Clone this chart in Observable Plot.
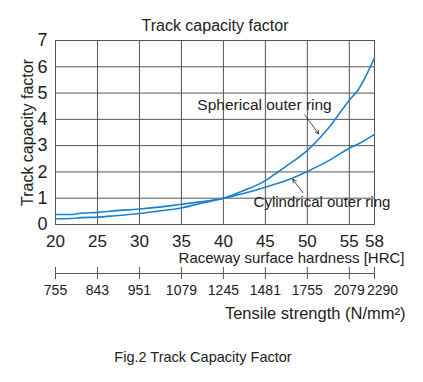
<!DOCTYPE html>
<html>
<head>
<meta charset="utf-8">
<script src="https://cdn.jsdelivr.net/npm/d3@7"></script>
<script src="https://cdn.jsdelivr.net/npm/@observablehq/plot@0.6"></script>
<style>
  body { margin: 0; background: #fff; font-family: "Liberation Sans", Arial, sans-serif; }
  #caption { width: 406px; text-align: center; font-size: 14.5px; color: #222; margin-top: 14px; }
</style>
</head>
<body>
<div id="chart"></div>
<div id="caption">Fig.2 Track Capacity Factor</div>
<script>
const hardness = [20, 22, 23, 25, 27, 30, 32, 35, 37.5, 40, 42.5, 45, 46, 47.5, 50, 52.5, 55, 56, 58];
const spherical = [0.22, 0.23, 0.26, 0.28, 0.33, 0.42, 0.5, 0.63, 0.82, 1.0, 1.3, 1.67, 1.89, 2.22, 2.82, 3.66, 4.73, 5.1, 6.34];
const cylindrical = [0.38, 0.38, 0.43, 0.46, 0.52, 0.59, 0.65, 0.77, 0.87, 1.0, 1.19, 1.42, 1.52, 1.67, 2.02, 2.42, 2.9, 3.05, 3.43];

const hardnessTicks = [20, 25, 30, 35, 40, 45, 50, 55, 58];
const tensileTicks = ["755", "843", "951", "1079", "1245", "1481", "1755", "2079", "2290"];
const yTicks = [0, 1, 2, 3, 4, 5, 6, 7];

const seriesNames = ["Spherical outer ring", "Cylindrical outer ring"];
const labelX = [44.9, 43.6];
const labelY = [4.55, 0.83];
const arrowX1 = [49.7, 49.45];
const arrowY1 = [4.17, 1.21];
const arrowX2 = [51.35, 48.27];
const arrowY2 = [3.45, 1.72];

const rows = [];
hardness.forEach((h, i) => {
  rows.push({h, v: spherical[i], s: seriesNames[0]});
  rows.push({h, v: cylindrical[i], s: seriesNames[1]});
});
const labels = seriesNames.map((s, i) => ({s, x: labelX[i], y: labelY[i]}));
const arrows = seriesNames.map((s, i) => ({x1: arrowX1[i], y1: arrowY1[i], x2: arrowX2[i], y2: arrowY2[i]}));
const tensileMap = new Map(hardnessTicks.map((h, i) => [h, tensileTicks[i]]));
const lastTick = hardnessTicks[hardnessTicks.length - 1];

const grid = "#555";
const blue = "#1b82cf";

const chart = Plot.plot({
  width: 423,
  height: 335,
  marginLeft: 55,
  marginRight: 49,
  marginTop: 40,
  marginBottom: 111,
  style: {fontFamily: "'Liberation Sans', Arial, sans-serif", color: "#222", background: "#fff"},
  x: {domain: [20, 58]},
  y: {domain: [0, 7]},
  marks: [
    Plot.gridX(hardnessTicks, {stroke: grid, strokeOpacity: 1, strokeWidth: 1}),
    Plot.gridY(yTicks, {stroke: grid, strokeOpacity: 1, strokeWidth: 1}),
    Plot.frame({stroke: grid, strokeWidth: 1}),
    Plot.axisY(yTicks, {tickSize: 0, tickPadding: 8, fontSize: 18, label: null}),
    Plot.axisX(hardnessTicks, {tickSize: 0, tickPadding: 10, fontSize: 17, label: null}),
    Plot.ruleY([0], {x1: 20, x2: 58, dy: 49, stroke: grid}),
    Plot.axisX(hardnessTicks, {tickSize: 12, tickPadding: 6, dy: 43, fontSize: 14, stroke: grid, tickFormat: d => d === lastTick ? "" : tensileMap.get(d), label: null}),
    Plot.axisX([lastTick], {tickSize: 0, tickPadding: 18, dy: 43, dx: 8, fontSize: 14, tickFormat: d => tensileMap.get(d), label: null}),
    Plot.line(rows, {x: "h", y: "v", z: "s", stroke: blue, strokeWidth: 1.6, curve: "monotone-x"}),
    Plot.arrow(arrows, {x1: "x1", y1: "y1", x2: "x2", y2: "y2", stroke: "#222", strokeWidth: 0.8, headLength: 7}),
    Plot.text([labels[0]], {x: "x", y: "y", text: "s", fontSize: 15.5, textAnchor: "middle", fill: "#222"}),
    Plot.text([labels[1]], {x: "x", y: "y", text: "s", fontSize: 15, textAnchor: "start", fill: "#222"}),
    Plot.text(["Track capacity factor"], {frameAnchor: "top", lineAnchor: "middle", dy: -15, fontSize: 16, fill: "#222"}),
    Plot.text(["Track capacity factor"], {frameAnchor: "left", textAnchor: "middle", lineAnchor: "middle", dx: -28, rotate: -90, fontSize: 16, fill: "#222"}),
    Plot.text(["Raceway surface hardness [HRC]"], {frameAnchor: "bottom-right", textAnchor: "end", lineAnchor: "middle", dx: 30, dy: 34, fontSize: 15, fill: "#222"}),
    Plot.text(["Tensile strength (N/mm²)"], {frameAnchor: "bottom-right", textAnchor: "end", lineAnchor: "middle", dx: 31, dy: 89, fontSize: 16.5, fill: "#222"})
  ]
});
document.getElementById("chart").appendChild(chart);
</script>
</body>
</html>
